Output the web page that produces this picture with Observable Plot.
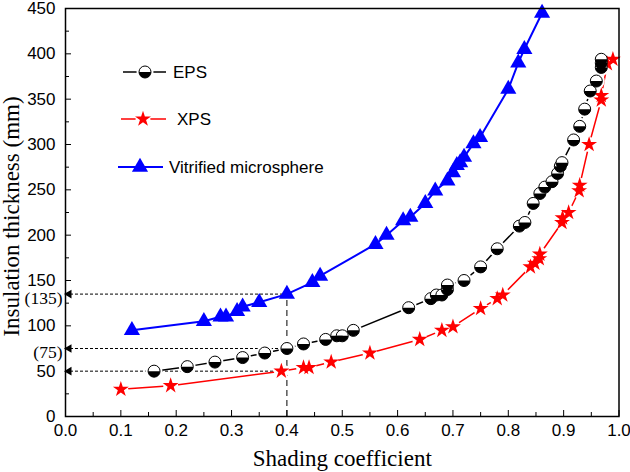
<!DOCTYPE html>
<html>
<head>
<meta charset="utf-8">
<script src="https://cdn.jsdelivr.net/npm/d3@7"></script>
<script src="https://cdn.jsdelivr.net/npm/@observablehq/plot@0.6"></script>
<style>
  body { margin: 0; background: #fff; }
  svg { display: block; }
</style>
</head>
<body>
<div id="chart"></div>
<script>
// Shading coefficient vs. required insulation thickness for three materials
const epsX = [0.16, 0.22, 0.27, 0.32, 0.36, 0.40, 0.43, 0.47, 0.49, 0.50, 0.52, 0.62, 0.66, 0.67, 0.68, 0.69, 0.69, 0.72, 0.75, 0.78, 0.82, 0.83, 0.845, 0.857, 0.866, 0.879, 0.889, 0.894, 0.897, 0.918, 0.929, 0.938, 0.948, 0.959, 0.968, 0.968, 0.968];
const epsY = [50, 55, 60, 65, 70, 75, 80, 85, 89, 89, 95, 120, 130, 134, 134, 140, 145, 150, 165, 185, 210, 214, 235, 246, 253, 259, 268, 276, 280, 305, 320, 339, 359, 370, 385, 390, 394];

const xpsX = [0.10, 0.19, 0.39, 0.43, 0.44, 0.48, 0.55, 0.64, 0.68, 0.70, 0.75, 0.78, 0.79, 0.84, 0.848, 0.856, 0.857, 0.897, 0.898, 0.909, 0.928, 0.929, 0.946, 0.968, 0.968, 0.979, 0.989];
const xpsY = [30, 34, 50, 54, 54, 60, 70, 85, 95, 99, 119, 130, 134, 165, 169, 174, 179, 214, 219, 225, 249, 255, 300, 349, 354, 389, 394];

const vmX = [0.12, 0.25, 0.28, 0.29, 0.31, 0.32, 0.35, 0.40, 0.446, 0.46, 0.56, 0.58, 0.61, 0.623, 0.65, 0.668, 0.69, 0.70, 0.707, 0.713, 0.72, 0.737, 0.749, 0.80, 0.818, 0.829, 0.861];
const vmY = [95, 105, 110, 110, 116, 121, 126, 135, 148, 155, 190, 200, 216, 220, 235, 249, 260, 269, 277, 280, 286, 301, 308, 361, 390, 405, 445];

const seriesNames = ["EPS", "XPS", "Vitrified microsphere"];

// Read-off guides: thickness needed at a shading coefficient of 0.4
const guideY = [135, 75, 50];
const guideX = [0.40, 0.40, 0.39];
const guideLabelY = [135, 75];
const guideLabels = ["(135)", "(75)"];

// Axis ticks
const xTicks = [0.0, 0.1, 0.2, 0.3, 0.4, 0.5, 0.6, 0.7, 0.8, 0.9, 1.0];
const xMinor = [0.05, 0.15, 0.25, 0.35, 0.45, 0.55, 0.65, 0.75, 0.85, 0.95];
const yTicks = [0, 50, 100, 150, 200, 250, 300, 350, 400, 450];
const yMinor = [25, 75, 125, 175, 225, 275, 325, 375, 425];

const toRows = (xs, ys) => xs.map((x, i) => ({x, y: ys[i]}));
const eps = toRows(epsX, epsY);
const xps = toRows(xpsX, xpsY);
const vm = toRows(vmX, vmY);
const guides = toRows(guideX, guideY);
const guideText = guideLabelY.map((y, i) => ({y, label: guideLabels[i]}));

const SANS = "'Liberation Sans', Arial, sans-serif";
const SERIF = "'Liberation Serif', 'Times New Roman', serif";

// Lower half of a circle, laid over a white circle for the EPS marker
const lowerHalf = {
  draw(ctx, size) {
    const r = Math.sqrt(size / Math.PI);
    ctx.moveTo(r, 0);
    ctx.arc(0, 0, r, 0, Math.PI);
    ctx.closePath();
  }
};

const BLUE = "#0000ff", RED = "#ff0000";
const STAR_R = 5, TRI_R = 6, EPS_R = 6;

const chart = Plot.plot({
  width: 630,
  height: 472,
  marginLeft: 65,
  marginRight: 11.5,
  marginTop: 8,
  marginBottom: 56,
  x: {domain: [0, 1], label: null},
  y: {domain: [0, 450], label: null},
  style: {fontFamily: SANS, fontSize: "17px", color: "black", background: "white"},
  marks: [
    // guide lines
    Plot.ruleY(guides, {y: "y", x1: 0, x2: "x", stroke: "black", strokeWidth: 1, strokeDasharray: "3,2"}),
    Plot.ruleX([guideX[0]], {x: d => d, y1: 0, y2: guideY[0], stroke: "black", strokeWidth: 1, strokeDasharray: "6,4"}),
    Plot.dot(guides, {x: 0, y: "y", symbol: "triangle", rotate: -90, r: 3.2, fill: "black", dx: 3.5}),

    // series lines
    Plot.line(vm, {x: "x", y: "y", stroke: BLUE, strokeWidth: 2}),
    Plot.line(eps, {x: "x", y: "y", stroke: "black", strokeWidth: 1.5}),
    Plot.line(xps, {x: "x", y: "y", stroke: RED, strokeWidth: 1.5}),

    // white gaps where the lines meet the EPS and XPS markers
    Plot.dot(eps, {x: "x", y: "y", r: 8.5, fill: "white"}),
    Plot.dot(xps, {x: "x", y: "y", r: 7.5, fill: "white"}),

    // markers
    Plot.dot(vm, {x: "x", y: "y", symbol: "triangle", r: TRI_R, fill: BLUE}),
    Plot.dot(xps, {x: "x", y: "y", symbol: "star", r: STAR_R, fill: RED}),
    Plot.dot(eps, {x: "x", y: "y", r: EPS_R, fill: "white", stroke: "black", strokeWidth: 1}),
    Plot.dot(eps, {x: "x", y: "y", r: EPS_R, symbol: lowerHalf, fill: "black"}),

    // inward ticks
    Plot.axisX(xTicks, {tickSize: -6, tickFormat: () => "", label: null}),
    Plot.axisX(xMinor, {tickSize: -4, tickFormat: () => "", label: null}),
    Plot.axisY(yTicks, {tickSize: -6, tickFormat: () => "", label: null}),
    Plot.axisY(yMinor, {tickSize: -4, tickFormat: () => "", label: null}),

    // tick labels
    Plot.axisX(xTicks, {tickSize: 0, tickPadding: 7, tickFormat: d3.format(".1f"), label: null}),
    Plot.axisY(yTicks, {tickSize: 0, tickPadding: 10, tickFormat: d => String(d), label: null}),
    Plot.text(guideText, {x: 0, y: "y", text: "label", textAnchor: "end", dx: -3, dy: 4, fontFamily: SERIF, fontSize: 17.5}),

    // axis titles
    Plot.text(["Shading coefficient"], {frameAnchor: "bottom", lineAnchor: "bottom", textAnchor: "middle", dy: 49, fontFamily: SERIF, fontSize: 23}),
    Plot.text(["Insulation thickness (mm)"], {frameAnchor: "left", lineAnchor: "bottom", textAnchor: "middle", rotate: -90, dx: -47, dy: 4, fontFamily: SERIF, fontSize: 23}),

    Plot.frame({stroke: "black", strokeWidth: 1.5})
  ]
});

document.getElementById("chart").appendChild(chart);

// Legend inside the plot area
const svg = d3.select(chart);
const legend = svg.append("g").attr("font-family", SANS).attr("font-size", 17).attr("text-anchor", "start");
const rows = [
  {name: seriesNames[0], y: 72, x1: 123, x2: 166, sx: 145, tx: 173, color: "black", width: 1.5, gap: 8.5},
  {name: seriesNames[1], y: 119, x1: 121, x2: 166, sx: 143, tx: 177, color: RED, width: 1.5, gap: 7.5},
  {name: seriesNames[2], y: 167, x1: 118, x2: 163, sx: 140, tx: 169, color: BLUE, width: 2, gap: 0}
];
const area = r => Math.PI * r * r;
rows.forEach((row, i) => {
  const g = legend.append("g");
  g.append("line").attr("x1", row.x1).attr("x2", row.x2).attr("y1", row.y).attr("y2", row.y)
    .attr("stroke", row.color).attr("stroke-width", row.width);
  if (row.gap) g.append("circle").attr("cx", row.sx).attr("cy", row.y).attr("r", row.gap).attr("fill", "white");
  const t = `translate(${row.sx},${row.y})`;
  if (i === 0) {
    g.append("circle").attr("cx", row.sx).attr("cy", row.y).attr("r", EPS_R).attr("fill", "white").attr("stroke", "black");
    g.append("path").attr("transform", t).attr("d", d3.symbol(lowerHalf, area(EPS_R))()).attr("fill", "black");
  } else if (i === 1) {
    g.append("path").attr("transform", t).attr("d", d3.symbol(d3.symbolStar, area(STAR_R))()).attr("fill", RED);
  } else {
    g.append("path").attr("transform", t).attr("d", d3.symbol(d3.symbolTriangle, area(TRI_R))()).attr("fill", BLUE);
  }
  g.append("text").attr("x", row.tx).attr("y", row.y).attr("dy", "0.35em").attr("fill", "black").text(row.name);
});
</script>
</body>
</html>
